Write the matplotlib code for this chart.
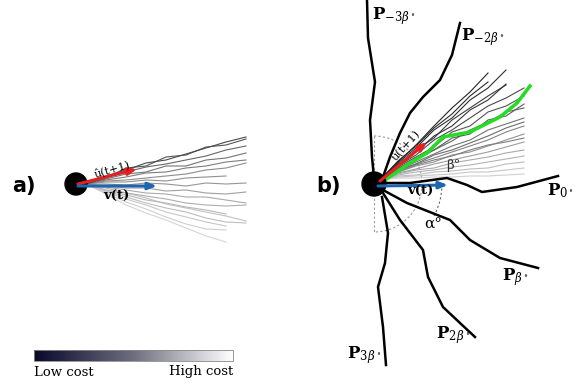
import numpy as np
import matplotlib.pyplot as plt
from matplotlib.patches import Circle, Arc
from matplotlib.colors import LinearSegmentedColormap

plt.rcParams['mathtext.fontset'] = 'dejavuserif'

# panel a: candidate trajectories, y at a fixed x grid, plus cost (0 dark .. 1 light)
a_x = [86, 106, 126, 146, 166, 186, 206, 226, 246]
a_paths = [
    [184, 176, 170, 163, 160, 154, 148, 142, 137],
    [184, 178, 168, 166, 157, 155, 147, 145, 139],
    [184, 177, 172, 167, 164, 160, 156, 150, 146],
    [184, 179, 174, 172, 166, 166, 160, 158, 153],
    [184, 180, 177, 173, 172, 168, 166, 162, 160],
    [184, 181, 180, 178, 176, 174, 170, 168, 163],
    [184, 182, 182, 180, 181, 178, 177, 176],
    [184, 184, 185, 183, 184, 186, 183, 184, 183],
    [184, 186, 188, 188, 191, 190, 193, 194, 192],
    [184, 187, 190, 193, 194, 197, 197, 200, 203],
    [184, 188, 193, 196, 199, 203, 205, 206, 205],
    [184, 190, 195, 200, 203, 207, 210, 214],
    [184, 191, 197, 203, 208, 212, 218, 222, 223],
    [184, 192, 199, 205, 212, 217, 222, 226],
    [184, 193, 202, 209, 217, 224, 229, 230],
    [184, 194, 205, 213, 220, 228, 236, 242],
    [184, 190, 193, 198, 204, 208, 212, 216, 221],
]
a_cost = [0.30, 0.35, 0.42, 0.48, 0.52, 0.58, 0.6, 0.62, 0.66, 0.7, 0.72,
          0.76, 0.78, 0.82, 0.85, 0.88, 0.8]

# panel b: candidate trajectories
b_x = [380, 398, 416, 434, 452, 470, 488, 506, 524]
b_paths = [
    [180, 162, 145, 126, 108, 92, 73],
    [180, 163, 148, 130, 118, 100, 88, 70],
    [180, 165, 150, 138, 120, 108, 96, 85],
    [180, 166, 155, 140, 130, 118, 106, 98, 88],
    [180, 167, 157, 147, 132, 126, 112, 106, 96],
    [180, 168, 160, 150, 141, 130, 122, 112, 108],
    [180, 170, 162, 154, 146, 140, 130, 124, 118],
    [180, 171, 164, 158, 152, 146, 140, 132, 126],
    [180, 172, 166, 162, 155, 152, 146, 140, 134],
    [180, 173, 169, 164, 160, 156, 152, 147, 142],
    [180, 174, 170, 168, 163, 160, 157, 153, 150],
    [180, 175, 172, 170, 167, 165, 162, 159, 156],
    [180, 176, 175, 172, 171, 169, 168, 164, 162],
    [180, 177, 176, 175, 174, 172, 172, 170, 168],
    [180, 178, 178, 177, 177, 176, 176, 175, 174],
    [180, 164, 152, 136, 126, 110, 100, 84],
    [180, 169, 158, 150, 138, 134, 120, 116, 104],
    [180, 172, 165, 160, 156, 150, 145, 142, 138],
    [180, 170, 164, 155, 150, 143, 136, 128, 122],
    [180, 161, 146, 128, 114, 96, 82],
]
b_cost = [0.15, 0.2, 0.25, 0.3, 0.35, 0.42, 0.48, 0.55, 0.6, 0.65, 0.7,
          0.74, 0.78, 0.82, 0.86, 0.22, 0.38, 0.52, 0.45, 0.18]

# named direction paths in panel b
dir_paths = {
    r'$\mathbf{P}_{-3\beta^\circ}$': ([374, 372, 370, 375, 368, 367], [178, 157, 120, 82, 38, 0]),
    r'$\mathbf{P}_{-2\beta^\circ}$': ([383, 390, 400, 410, 423, 440, 452, 460], [177, 157, 133, 113, 97, 80, 55, 23]),
    r'$\mathbf{P}_{0^\circ}$': ([383, 410, 447, 467, 482, 517, 558], [183, 183, 178, 185, 192, 187, 176]),
    r'$\mathbf{P}_{\beta^\circ}$': ([383, 407, 450, 470, 500, 538], [190, 203, 220, 240, 258, 268]),
    r'$\mathbf{P}_{2\beta^\circ}$': ([383, 400, 423, 428, 443, 460, 475], [193, 220, 250, 277, 307, 323, 337]),
    r'$\mathbf{P}_{3\beta^\circ}$': ([382, 388, 385, 378, 383, 386], [197, 233, 263, 287, 327, 365]),
}
label_pos = {
    r'$\mathbf{P}_{-3\beta^\circ}$': (372, 16),
    r'$\mathbf{P}_{-2\beta^\circ}$': (461, 37),
    r'$\mathbf{P}_{0^\circ}$': (547, 191),
    r'$\mathbf{P}_{\beta^\circ}$': (502, 277),
    r'$\mathbf{P}_{2\beta^\circ}$': (436, 335),
    r'$\mathbf{P}_{3\beta^\circ}$': (347, 355),
}
green_x = [385, 410, 427, 443, 470, 500, 517, 530]
green_y = [180, 163, 153, 137, 132, 117, 103, 86]

fig = plt.figure(figsize=(5.85, 3.85), dpi=100)
ax = fig.add_axes([0, 0, 1, 1])
ax.set_xlim(0, 585)
ax.set_ylim(385, 0)
ax.axis('off')

cmap = LinearSegmentedColormap.from_list('cost', ['#08082a', '#6e6e80', '#ffffff'])

# trajectories (light first so dark ones sit on top)
for ys, c in sorted(zip(a_paths, a_cost), key=lambda t: -t[1]):
    ax.plot(a_x[:len(ys)], ys, color=str(c * 0.95), lw=0.8, zorder=2)
for ys, c in sorted(zip(b_paths, b_cost), key=lambda t: -t[1]):
    ax.plot(b_x[:len(ys)], ys, color=str(c * 0.95), lw=0.8, zorder=2)

# dashed angle guides in panel b
ax.add_patch(Arc((374, 184), 96, 96, theta1=-90, theta2=90, ls=(0, (2, 2)), color='#999999', lw=0.8, zorder=1))
ax.plot([374, 374], [136, 232], ls=(0, (2, 2)), color='#999999', lw=0.8, zorder=1)
ax.add_patch(Arc((374, 184), 136, 136, theta1=0, theta2=28, ls=(0, (2, 2)), color='#666666', lw=0.8, zorder=3))

for lab, (xs, ys) in dir_paths.items():
    ax.plot(xs, ys, color='black', lw=1.8, zorder=4)
    x, y = label_pos[lab]
    ax.text(x, y, lab, fontsize=12, ha='left', va='center', zorder=6)
ax.plot(green_x, green_y, color='#22dd22', lw=2.5, zorder=5)

# circles
ax.add_patch(Circle((76, 184), 11, color='black', zorder=7))
ax.add_patch(Circle((374, 184), 12, color='black', zorder=7))

# arrows
arr = dict(arrowstyle='-|>,head_length=0.5,head_width=0.2', lw=2.2, shrinkA=0, shrinkB=0)
ax.annotate('', xy=(137, 169), xytext=(78, 184), arrowprops=dict(color='#e62020', **arr), zorder=8)
ax.annotate('', xy=(157, 186), xytext=(78, 186), arrowprops=dict(color='#1f66b0', **arr), zorder=8)
ax.annotate('', xy=(427, 142), xytext=(380, 181), arrowprops=dict(color='#e62020', **arr), zorder=8)
ax.annotate('', xy=(448, 185), xytext=(378, 186), arrowprops=dict(color='#1f66b0', **arr), zorder=8)

ax.text(112, 169, 'û(t+1)', fontsize=8, family='DejaVu Serif', rotation=16, ha='center', va='center', zorder=9)
ax.text(116, 196, 'v(t)', fontsize=9.5, family='DejaVu Serif', weight='bold', ha='center', va='center', zorder=9)
ax.text(405, 145, 'û(t+1)', fontsize=8, family='DejaVu Serif', rotation=48, ha='center', va='center', zorder=9)
ax.text(420, 191, 'v(t)', fontsize=9.5, family='DejaVu Serif', weight='bold', ha='center', va='center', zorder=9)
ax.text(453, 165, 'β°', fontsize=9.5, family='DejaVu Serif', ha='center', va='center', color='#333333', zorder=9)
ax.text(433, 225, 'α°', fontsize=11, family='DejaVu Serif', ha='center', va='center', zorder=9)

ax.text(12, 186, 'a)', fontsize=15, weight='bold', ha='left', va='center')
ax.text(316, 186, 'b)', fontsize=15, weight='bold', ha='left', va='center')

# cost colour bar
grad = np.linspace(0, 1, 256)[None, :]
ax.imshow(grad, cmap=cmap, extent=[34, 233, 361, 350], aspect='auto', zorder=1)
ax.add_patch(plt.Rectangle((34, 350), 199, 11, fill=False, ec='#888888', lw=0.6))
ax.text(34, 372, 'Low cost', fontsize=9.5, family='DejaVu Serif', ha='left', va='center')
ax.text(233, 372, 'High cost', fontsize=9.5, family='DejaVu Serif', ha='right', va='center')

fig.savefig('out.png', dpi=100)
